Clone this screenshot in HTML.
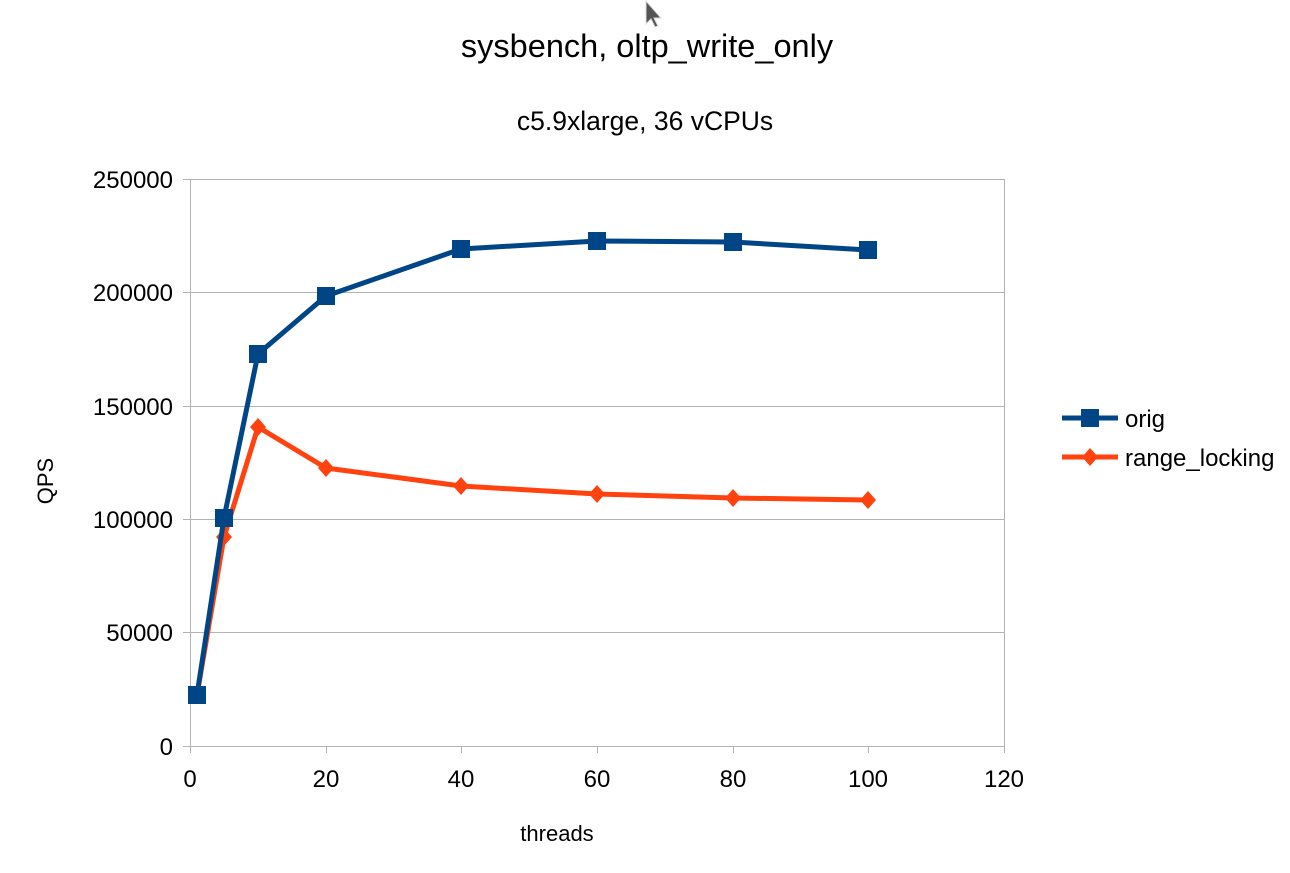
<!DOCTYPE html>
<html><head><style>body{margin:0;background:#fff}svg{display:block}</style></head><body>
<svg width="1290" height="873" xmlns="http://www.w3.org/2000/svg" font-family="Liberation Sans, sans-serif">
<rect width="1290" height="873" fill="#fff"/>
<path d="M646,1 L646,24 L651,19 L655,27 L658,26 L654,18 L661,18 Z" fill="#555" stroke="#ddd" stroke-width="1"/>
<text x="647" y="57" font-size="32.5" text-anchor="middle" fill="#000">sysbench, oltp_write_only</text>
<text x="645" y="130" font-size="26.5" text-anchor="middle" fill="#000">c5.9xlarge, 36 vCPUs</text>
<g stroke="#b3b3b3" stroke-width="1">
<line x1="190" y1="179.5" x2="1004" y2="179.5"/>
<line x1="190" y1="292.5" x2="1004" y2="292.5"/>
<line x1="190" y1="406.5" x2="1004" y2="406.5"/>
<line x1="190" y1="519.5" x2="1004" y2="519.5"/>
<line x1="190" y1="632.5" x2="1004" y2="632.5"/>
<line x1="1004.5" y1="179" x2="1004.5" y2="746"/>
<line x1="183" y1="179.5" x2="190" y2="179.5"/>
<line x1="183" y1="292.5" x2="190" y2="292.5"/>
<line x1="183" y1="406.5" x2="190" y2="406.5"/>
<line x1="183" y1="519.5" x2="190" y2="519.5"/>
<line x1="183" y1="632.5" x2="190" y2="632.5"/>
<line x1="183" y1="746.5" x2="1004" y2="746.5"/>
<line x1="190.5" y1="179" x2="190.5" y2="753"/>
<line x1="326.5" y1="746" x2="326.5" y2="753"/>
<line x1="461.5" y1="746" x2="461.5" y2="753"/>
<line x1="597.5" y1="746" x2="597.5" y2="753"/>
<line x1="733.5" y1="746" x2="733.5" y2="753"/>
<line x1="868.5" y1="746" x2="868.5" y2="753"/>
<line x1="1004.5" y1="746" x2="1004.5" y2="753"/>
</g>
<g font-size="24" text-anchor="end" fill="#000">
<text x="173" y="188">250000</text>
<text x="173" y="301">200000</text>
<text x="173" y="415">150000</text>
<text x="173" y="528">100000</text>
<text x="173" y="641">50000</text>
<text x="173" y="755">0</text>
</g>
<g font-size="24" text-anchor="middle" fill="#000">
<text x="190" y="787">0</text>
<text x="326" y="787">20</text>
<text x="461" y="787">40</text>
<text x="597" y="787">60</text>
<text x="733" y="787">80</text>
<text x="868" y="787">100</text>
<text x="1004" y="787">120</text>
</g>
<text x="557" y="841" font-size="22" text-anchor="middle">threads</text>
<text transform="translate(53,481) rotate(-90)" font-size="22" text-anchor="middle">QPS</text>
<polyline points="197,695 224,537 258,427 326,468 461,486 597,494 733,498 868,500" fill="none" stroke="#ff420e" stroke-width="5" stroke-linejoin="round"/>
<g fill="#ff420e">
<path d="M197,686 l8,9 l-8,9 l-8,-9z"/><path d="M224,528 l8,9 l-8,9 l-8,-9z"/><path d="M258,418 l8,9 l-8,9 l-8,-9z"/><path d="M326,459 l8,9 l-8,9 l-8,-9z"/><path d="M461,477 l8,9 l-8,9 l-8,-9z"/><path d="M597,485 l8,9 l-8,9 l-8,-9z"/><path d="M733,489 l8,9 l-8,9 l-8,-9z"/><path d="M868,491 l8,9 l-8,9 l-8,-9z"/>
</g>
<polyline points="197,695 224,518 258,354 326,296 461,249 597,241 733,242 868,250" fill="none" stroke="#004586" stroke-width="5" stroke-linejoin="round"/>
<g fill="#004586">
<rect x="188" y="686" width="18" height="18"/><rect x="215" y="509" width="18" height="18"/><rect x="249" y="345" width="18" height="18"/><rect x="317" y="287" width="18" height="18"/><rect x="452" y="240" width="18" height="18"/><rect x="588" y="232" width="18" height="18"/><rect x="724" y="233" width="18" height="18"/><rect x="859" y="241" width="18" height="18"/>
</g>
<line x1="1062" y1="418" x2="1118" y2="418" stroke="#004586" stroke-width="5"/>
<rect x="1081" y="409" width="18" height="18" fill="#004586"/>
<text x="1125" y="427" font-size="24">orig</text>
<line x1="1062" y1="457" x2="1118" y2="457" stroke="#ff420e" stroke-width="5"/>
<path d="M1090,448 l8,9 l-8,9 l-8,-9z" fill="#ff420e"/>
<text x="1125" y="466" font-size="24">range_locking</text>
</svg>
</body></html>
